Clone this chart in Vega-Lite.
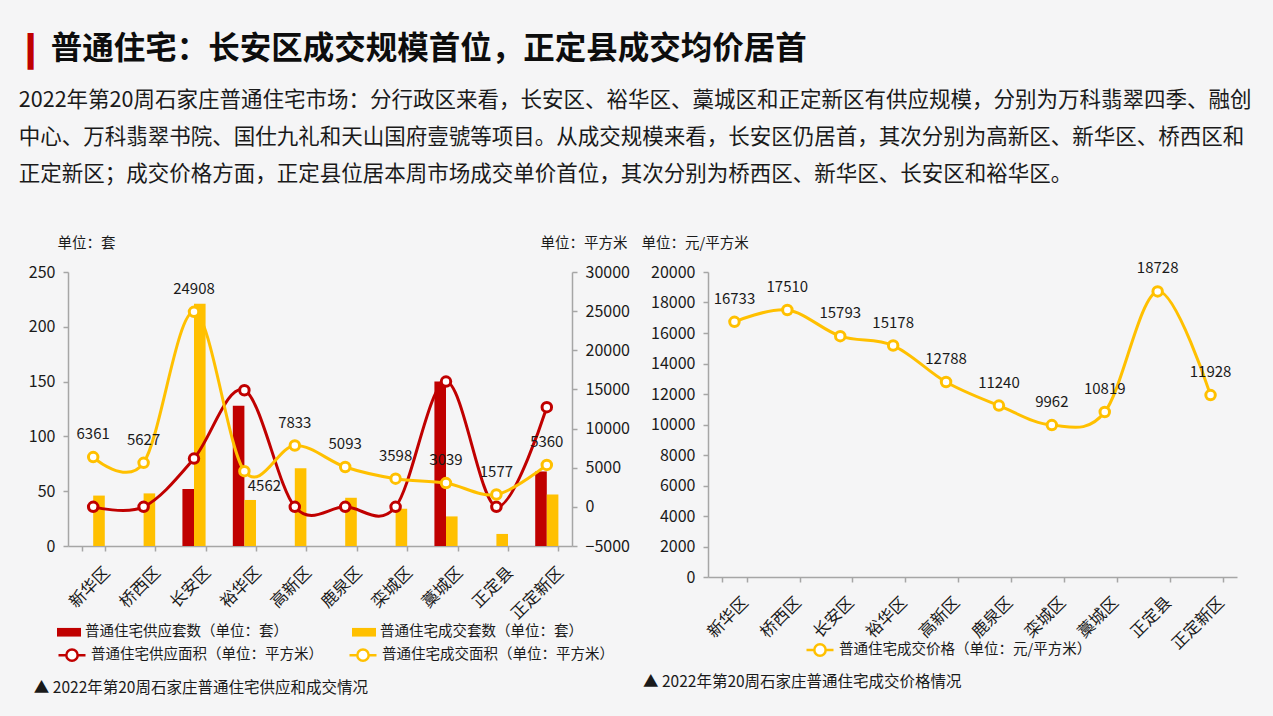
{
  "$schema": "https://vega.github.io/schema/vega-lite/v6.json",
  "background": "#f5f5f6",
  "padding": {"left": 18, "top": 34, "right": 23, "bottom": 25},
  "config": {
    "font": "Noto Sans CJK SC",
    "view": {"stroke": null},
    "axis": {"domainColor": "#a6a6a6", "tickColor": "#a6a6a6", "domainWidth": 1.5, "tickWidth": 1.5, "tickSize": 5, "labelColor": "#1a1a1a", "labelFontSize": 16, "labelPadding": 8, "grid": false, "titleFontSize": 14.5, "titleFontWeight": "normal", "titleColor": "#1a1a1a"},
    "legend": {"labelFontSize": 14.5, "labelColor": "#1a1a1a", "labelOffset": 4, "padding": 0, "title": null, "orient": "none", "direction": "horizontal", "labelLimit": 400},
    "text": {"font": "Noto Sans CJK SC"}
  },
  "datasets": {
    "counts": [
      {"区域": "新华区", "系列": "普通住宅供应套数（单位：套）", "套数": 0},
      {"区域": "桥西区", "系列": "普通住宅供应套数（单位：套）", "套数": 0},
      {"区域": "长安区", "系列": "普通住宅供应套数（单位：套）", "套数": 52},
      {"区域": "裕华区", "系列": "普通住宅供应套数（单位：套）", "套数": 128},
      {"区域": "高新区", "系列": "普通住宅供应套数（单位：套）", "套数": 0},
      {"区域": "鹿泉区", "系列": "普通住宅供应套数（单位：套）", "套数": 0},
      {"区域": "栾城区", "系列": "普通住宅供应套数（单位：套）", "套数": 0},
      {"区域": "藁城区", "系列": "普通住宅供应套数（单位：套）", "套数": 150},
      {"区域": "正定县", "系列": "普通住宅供应套数（单位：套）", "套数": 0},
      {"区域": "正定新区", "系列": "普通住宅供应套数（单位：套）", "套数": 68},
      {"区域": "新华区", "系列": "普通住宅成交套数（单位：套）", "套数": 46},
      {"区域": "桥西区", "系列": "普通住宅成交套数（单位：套）", "套数": 48},
      {"区域": "长安区", "系列": "普通住宅成交套数（单位：套）", "套数": 221},
      {"区域": "裕华区", "系列": "普通住宅成交套数（单位：套）", "套数": 42},
      {"区域": "高新区", "系列": "普通住宅成交套数（单位：套）", "套数": 71},
      {"区域": "鹿泉区", "系列": "普通住宅成交套数（单位：套）", "套数": 44},
      {"区域": "栾城区", "系列": "普通住宅成交套数（单位：套）", "套数": 34},
      {"区域": "藁城区", "系列": "普通住宅成交套数（单位：套）", "套数": 27},
      {"区域": "正定县", "系列": "普通住宅成交套数（单位：套）", "套数": 11},
      {"区域": "正定新区", "系列": "普通住宅成交套数（单位：套）", "套数": 47}
    ],
    "areas": [
      {"区域": "新华区", "系列": "普通住宅供应面积（单位：平方米）", "面积": 0},
      {"区域": "桥西区", "系列": "普通住宅供应面积（单位：平方米）", "面积": 0},
      {"区域": "长安区", "系列": "普通住宅供应面积（单位：平方米）", "面积": 6170},
      {"区域": "裕华区", "系列": "普通住宅供应面积（单位：平方米）", "面积": 14900},
      {"区域": "高新区", "系列": "普通住宅供应面积（单位：平方米）", "面积": 0},
      {"区域": "鹿泉区", "系列": "普通住宅供应面积（单位：平方米）", "面积": 0},
      {"区域": "栾城区", "系列": "普通住宅供应面积（单位：平方米）", "面积": 0},
      {"区域": "藁城区", "系列": "普通住宅供应面积（单位：平方米）", "面积": 16000},
      {"区域": "正定县", "系列": "普通住宅供应面积（单位：平方米）", "面积": 0},
      {"区域": "正定新区", "系列": "普通住宅供应面积（单位：平方米）", "面积": 12730},
      {"区域": "新华区", "系列": "普通住宅成交面积（单位：平方米）", "面积": 6361},
      {"区域": "桥西区", "系列": "普通住宅成交面积（单位：平方米）", "面积": 5627},
      {"区域": "长安区", "系列": "普通住宅成交面积（单位：平方米）", "面积": 24908},
      {"区域": "裕华区", "系列": "普通住宅成交面积（单位：平方米）", "面积": 4562},
      {"区域": "高新区", "系列": "普通住宅成交面积（单位：平方米）", "面积": 7833},
      {"区域": "鹿泉区", "系列": "普通住宅成交面积（单位：平方米）", "面积": 5093},
      {"区域": "栾城区", "系列": "普通住宅成交面积（单位：平方米）", "面积": 3598},
      {"区域": "藁城区", "系列": "普通住宅成交面积（单位：平方米）", "面积": 3039},
      {"区域": "正定县", "系列": "普通住宅成交面积（单位：平方米）", "面积": 1577},
      {"区域": "正定新区", "系列": "普通住宅成交面积（单位：平方米）", "面积": 5360}
    ],
    "price": [
      {"区域": "新华区", "系列": "普通住宅成交价格（单位：元/平方米）", "价格": 16733},
      {"区域": "桥西区", "系列": "普通住宅成交价格（单位：元/平方米）", "价格": 17510},
      {"区域": "长安区", "系列": "普通住宅成交价格（单位：元/平方米）", "价格": 15793},
      {"区域": "裕华区", "系列": "普通住宅成交价格（单位：元/平方米）", "价格": 15178},
      {"区域": "高新区", "系列": "普通住宅成交价格（单位：元/平方米）", "价格": 12788},
      {"区域": "鹿泉区", "系列": "普通住宅成交价格（单位：元/平方米）", "价格": 11240},
      {"区域": "栾城区", "系列": "普通住宅成交价格（单位：元/平方米）", "价格": 9962},
      {"区域": "藁城区", "系列": "普通住宅成交价格（单位：元/平方米）", "价格": 10819},
      {"区域": "正定县", "系列": "普通住宅成交价格（单位：元/平方米）", "价格": 18728},
      {"区域": "正定新区", "系列": "普通住宅成交价格（单位：元/平方米）", "价格": 11928}
    ]
  },
  "title": {"text": "▎", "color": "#c00000", "font": "DejaVu Sans", "fontSize": 31, "fontWeight": "normal", "anchor": "start", "offset": -35, "dx": 9},
  "vconcat": [
    {
      "title": {
        "text": "普通住宅：长安区成交规模首位，正定县成交均价居首",
        "anchor": "start",
        "dx": 32,
        "font": "Noto Sans CJK SC",
        "fontSize": 31.5,
        "fontWeight": "bold",
        "color": "#0d0d0d",
        "offset": 24
      },
      "vconcat": [
        {
          "title": {
            "text": [
              "2022年第20周石家庄普通住宅市场：分行政区来看，长安区、裕华区、藁城区和正定新区有供应规模，分别为万科翡翠四季、融创",
              "中心、万科翡翠书院、国仕九礼和天山国府壹號等项目。从成交规模来看，长安区仍居首，其次分别为高新区、新华区、桥西区和",
              "正定新区；成交价格方面，正定县位居本周市场成交单价首位，其次分别为桥西区、新华区、长安区和裕华区。"
            ],
            "anchor": "start",
            "dx": -9.5,
            "font": "Noto Sans CJK SC",
            "fontSize": 21.5,
            "fontWeight": "normal",
            "color": "#1a1a1a",
            "lineHeight": 37,
            "offset": 50
          },
          "hconcat": [
            {
              "width": 504,
              "height": 274,
              "title": {"text": "▲ 2022年第20周石家庄普通住宅供应和成交情况", "orient": "bottom", "anchor": "start", "fontSize": 15.5, "fontWeight": "normal", "color": "#1a1a1a", "dx": 5.5, "offset": 15},
              "resolve": {"scale": {"y": "independent"}},
              "layer": [
                {
                  "data": {"name": "counts"},
                  "mark": {"type": "bar"},
                  "encoding": {
                    "x": {"field": "区域", "type": "nominal", "sort": null,
                      "scale": {"domain": ["新华区","桥西区","长安区","裕华区","高新区","鹿泉区","栾城区","藁城区","正定县","正定新区"], "paddingInner": 0.54, "paddingOuter": 0.27},
                      "axis": {"title": null, "labelAngle": -45, "tickBand": "extent", "labelPadding": 13, "labelOffset": 8, "labelFontSize": 16.5}},
                    "xOffset": {"field": "系列", "type": "nominal", "sort": ["普通住宅供应套数（单位：套）", "普通住宅成交套数（单位：套）"], "scale": {"paddingInner": 0, "paddingOuter": 0}},
                    "y": {"field": "套数", "type": "quantitative", "scale": {"domain": [0, 250], "nice": false},
                      "axis": {"values": [0, 50, 100, 150, 200, 250], "format": "d", "title": "单位：套", "titleAngle": 0, "titleAlign": "left", "titleBaseline": "middle", "titleX": -11, "titleY": -29}},
                    "color": {"field": "系列", "type": "nominal", "sort": ["普通住宅供应套数（单位：套）", "普通住宅成交套数（单位：套）"],
                      "scale": {"range": ["#c00000", "#ffc000"]},
                      "legend": {"legendX": -11, "legendY": 348, "columns": 2, "columnPadding": 64, "symbolType": "M-1,-0.36H1V0.36H-1Z", "symbolSize": 576, "symbolStrokeWidth": 0}}
                  }
                },
                {
                  "data": {"name": "areas"},
                  "encoding": {
                    "x": {"field": "区域", "type": "nominal", "sort": null},
                    "y": {"field": "面积", "type": "quantitative", "scale": {"domain": [-5000, 30000], "nice": false},
                      "axis": {"orient": "right", "values": [-5000, 0, 5000, 10000, 15000, 20000, 25000, 30000], "format": "d", "title": "单位：平方米", "titleAngle": 0, "titleAlign": "left", "titleBaseline": "middle", "titleX": -32, "titleY": -29}}
                  },
                  "layer": [
                    {
                      "mark": {"type": "line", "interpolate": "cardinal", "strokeWidth": 3},
                      "encoding": {
                        "stroke": {"field": "系列", "type": "nominal", "sort": ["普通住宅供应面积（单位：平方米）", "普通住宅成交面积（单位：平方米）"],
                          "scale": {"domain": ["普通住宅供应面积（单位：平方米）", "普通住宅成交面积（单位：平方米）"], "range": ["#c00000", "#ffc000"]},
                          "legend": {"legendX": -11, "legendY": 368, "columns": 2, "columnPadding": 21, "symbolType": "M-1,0H-0.42M0.42,0H1M-0.42,0A0.42,0.42,0,1,1,0.42,0A0.42,0.42,0,1,1,-0.42,0", "symbolSize": 729, "symbolStrokeWidth": 2.5, "symbolFillColor": "#ffffff"}}
                      }
                    },
                    {
                      "mark": {"type": "point", "shape": "circle", "filled": true, "fill": "#ffffff", "strokeWidth": 3, "size": 90, "opacity": 1},
                      "encoding": {
                        "stroke": {"field": "系列", "type": "nominal", "sort": ["普通住宅供应面积（单位：平方米）", "普通住宅成交面积（单位：平方米）"]}
                      }
                    },
                    {
                      "transform": [{"filter": "datum['系列'] === '普通住宅成交面积（单位：平方米）' && datum['区域'] !== '裕华区'"}],
                      "mark": {"type": "text", "fontSize": 15, "color": "#1a1a1a", "dy": -23, "baseline": "middle"},
                      "encoding": {"text": {"field": "面积", "type": "quantitative", "format": "d"}}
                    },
                    {
                      "transform": [{"filter": "datum['系列'] === '普通住宅成交面积（单位：平方米）' && datum['区域'] === '裕华区'"}],
                      "mark": {"type": "text", "fontSize": 15, "color": "#1a1a1a", "dx": 20, "dy": 15, "baseline": "middle"},
                      "encoding": {"text": {"field": "面积", "type": "quantitative", "format": "d"}}
                    }
                  ]
                }
              ]
            },
            {
              "width": 529,
              "height": 305,
              "data": {"name": "price"},
              "title": {"text": "▲ 2022年第20周石家庄普通住宅成交价格情况", "orient": "bottom", "anchor": "start", "fontSize": 15.5, "fontWeight": "normal", "color": "#1a1a1a", "dx": 2, "offset": 14},
              "encoding": {
                "x": {"field": "区域", "type": "nominal", "sort": null,
                  "scale": {"domain": ["新华区","桥西区","长安区","裕华区","高新区","鹿泉区","栾城区","藁城区","正定县","正定新区"], "paddingInner": 0.54, "paddingOuter": 0.27},
                  "axis": {"title": null, "labelAngle": -45, "tickBand": "extent", "labelPadding": 12, "labelOffset": 5, "labelFontSize": 16.5}},
                "y": {"field": "价格", "type": "quantitative", "scale": {"domain": [0, 20000], "nice": false},
                  "axis": {"values": [0, 2000, 4000, 6000, 8000, 10000, 12000, 14000, 16000, 18000, 20000], "format": "d", "title": "单位：元/平方米", "titleAngle": 0, "titleAlign": "left", "titleBaseline": "middle", "titleX": -67, "titleY": -29}}
              },
              "layer": [
                {
                  "mark": {"type": "line", "interpolate": "cardinal", "strokeWidth": 3},
                  "encoding": {
                    "stroke": {"field": "系列", "type": "nominal", "scale": {"domain": ["普通住宅成交价格（单位：元/平方米）"], "range": ["#ffc000"]},
                      "legend": {"legendX": 97, "legendY": 363, "symbolType": "M-1,0H-0.42M0.42,0H1M-0.42,0A0.42,0.42,0,1,1,0.42,0A0.42,0.42,0,1,1,-0.42,0", "symbolSize": 729, "symbolStrokeWidth": 2.5, "symbolFillColor": "#ffffff"}}
                  }
                },
                {
                  "mark": {"type": "point", "shape": "circle", "filled": true, "fill": "#ffffff", "strokeWidth": 3, "size": 90, "opacity": 1},
                  "encoding": {"stroke": {"field": "系列", "type": "nominal"}}
                },
                {
                  "mark": {"type": "text", "fontSize": 15, "color": "#1a1a1a", "dy": -23, "baseline": "middle"},
                  "encoding": {"text": {"field": "价格", "type": "quantitative", "format": "d"}}
                }
              ]
            }
          ],
          "resolve": {"scale": {"stroke": "independent", "color": "independent", "x": "independent", "y": "independent"}, "legend": {"stroke": "independent", "color": "independent"}},
          "align": "none",
          "spacing": 11
        }
      ]
    }
  ]
}
